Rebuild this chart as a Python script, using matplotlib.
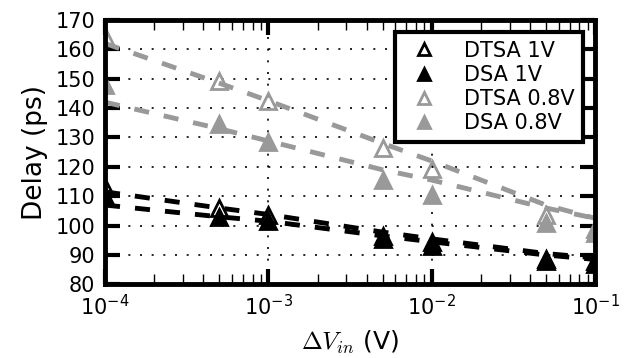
import matplotlib
matplotlib.use("Agg")
import matplotlib.pyplot as plt

plt.rcParams['font.family'] = ['DejaVu Sans']
plt.rcParams['mathtext.fontset'] = 'cm'

dvin = [1e-4, 5e-4, 1e-3, 5e-3, 1e-2, 5e-2, 1e-1]

# measured delays (ps)
dtsa_1v = [113, 106, 103.5, 96.5, 94.5, 88.5, 88]
dsa_1v = [110, 103, 101.5, 95.5, 93, 87.8, 87]
dtsa_08v = [164.5, 149.3, 142.4, 126.3, 119.3, 103.6, 99]
dsa_08v = [148, 134.5, 128.6, 115.5, 110.4, 100.8, 97.5]

# dashed trend curves
dtsa_1v_fit = [111.5, 106, 103.8, 97.8, 95.5, 90.5, 89]
dsa_1v_fit = [107, 103, 101.5, 96.5, 94.5, 90, 88.5]
dtsa_08v_fit = [162, 148.5, 142.5, 128, 122, 107, 102.5]
dsa_08v_fit = [142, 133, 128.8, 119, 115.5, 106, 102.5]

labels = ['DTSA 1V', 'DSA 1V', 'DTSA 0.8V', 'DSA 0.8V']
gray = '#999999'

fig = plt.figure(figsize=(6.31, 3.58), dpi=100)
ax = fig.add_axes([0.1664, 0.2056, 0.7766, 0.7388])

series = [
    (dtsa_1v, dtsa_1v_fit, 'black', 'none'),
    (dsa_1v, dsa_1v_fit, 'black', 'black'),
    (dtsa_08v, dtsa_08v_fit, gray, 'none'),
    (dsa_08v, dsa_08v_fit, gray, gray),
]

for (pts, fit, col, face), lab in zip(series, labels):
    ax.plot(dvin, fit, color=col, linewidth=3.5, dashes=(3.1, 3.1))
    ax.plot(dvin, pts, linestyle='none', marker='^', markersize=12,
            markeredgewidth=2, markeredgecolor=col, markerfacecolor=face,
            label=lab)

ax.set_xscale('log')
ax.set_xlim(1e-4, 1e-1)
ax.set_ylim(80, 170)
ax.set_yticks(range(80, 171, 10))

ax.grid(True, which='major', color='black', linewidth=1.2,
        linestyle=(0, (1.2, 5.8)))

for sp in ax.spines.values():
    sp.set_linewidth(3.5)
    sp.set_color('black')

ax.tick_params(which='major', direction='in', length=11, width=3,
               top=True, right=True, labelsize=15, pad=7)
ax.tick_params(which='minor', direction='in', length=7, width=1,
               top=True, right=True)

ax.set_xlabel(r'$\Delta V_{in}$ (V)', fontsize=18, labelpad=7)
ax.set_ylabel('Delay (ps)', fontsize=19, labelpad=5)

leg = ax.legend(loc='upper right', fontsize=15, fancybox=False,
                framealpha=1, edgecolor='black', markerscale=0.75,
                labelspacing=0.2, handletextpad=0.9, borderaxespad=0.6)
leg.get_frame().set_linewidth(3)

fig.savefig('out.png', dpi=100)
